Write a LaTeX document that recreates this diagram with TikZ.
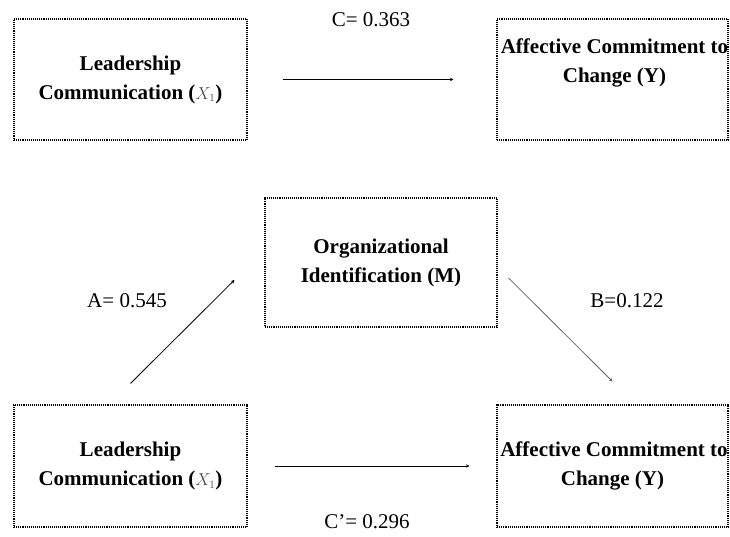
\documentclass[tikz,border=0pt]{standalone}
\usepackage{fontspec}
\setmainfont{Liberation Serif}
\usetikzlibrary{arrows.meta}

\begin{document}
\begin{tikzpicture}[x=1pt,y=-1pt,
  box/.style={draw,densely dotted,line width=1.1pt,align=center,font=\bfseries},
  path/.style={line width=0.8pt,-{Stealth[length=3.5pt,width=3.5pt]}},
  coef/.style={font=\fontsize{21}{29}\selectfont}]
\useasboundingbox (0,0) rectangle (730,537);
\fontsize{21}{29}\selectfont

% total effect
\node[box,minimum width=233pt,minimum height=121pt] (lc1) at (130.5,79.5) {Leadership\\Communication ({\color{black!70}\fontsize{16}{16}\selectfont$X_1$})};
\node[box,minimum width=231pt,minimum height=121pt,
  label={[align=center,font=\bfseries,yshift=17pt,xshift=2pt,inner xsep=0pt]center:Affective Commitment to\\Change (Y)}] (ac1) at (612.5,79.5) {};
 \draw[path,shorten <=35pt,shorten >=43pt](lc1.east)--(ac1.west);
 \node[coef] (c) at (371,20) {C= 0.363};

% mediation
\node[box,minimum width=232pt,minimum height=129pt] (oi) at (381,262.5) {Organizational\\Identification (M)};
\node[box,minimum width=233pt,minimum height=122pt] (lc2) at (130.5,466) {Leadership\\Communication ({\color{black!70}\fontsize{16}{16}\selectfont$X_1$})};
\node[box,minimum width=231pt,minimum height=122pt,inner xsep=0pt] (ac2) at (612.5,466) {\hspace*{3pt}Affective Commitment to\\Change (Y)};

\coordinate (a1) at ([yshift=21pt]lc2.north);
\coordinate (a2) at ([xshift=-30pt,yshift=-17.5pt]oi.west);
\coordinate (b1) at ([xshift=11pt,yshift=-15.5pt]oi.east);
\coordinate (b2) at ([yshift=23pt]ac2.north);

 \draw[path](a1)--(a2);
 \draw[path,black!60](b1)--(b2);
 \draw[path,shorten <=27pt,shorten >=27pt](lc2.east)--(ac2.west);

 \node[coef] (a) at (127,301) {A= 0.545};
 \node[coef] (b) at (627,301) {B=0.122};
 \node[coef] (cp) at (367,522) {C’= 0.296};

\end{tikzpicture}
\end{document}
